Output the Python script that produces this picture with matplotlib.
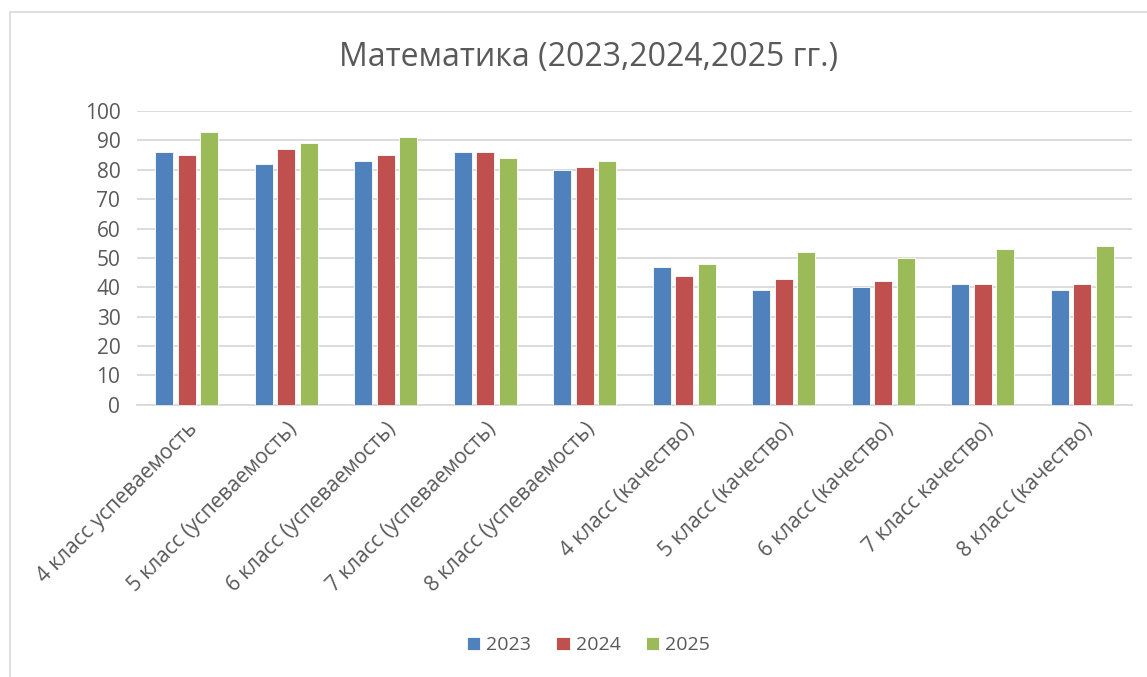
import matplotlib

matplotlib.use("Agg")
import matplotlib.pyplot as plt
import numpy as np
from matplotlib.patches import Rectangle

plt.rcParams["font.family"] = ["Open Sans", "DejaVu Sans"]

categories = [
    "4 класс успеваемость",
    "5 класс (успеваемость)",
    "6 класс (успеваемость)",
    "7 класс (успеваемость)",
    "8 класс (успеваемость)",
    "4 класс (качество)",
    "5 класс (качество)",
    "6 класс (качество)",
    "7 класс качество)",
    "8 класс (качество)",
]
years = ["2023", "2024", "2025"]
v2023 = [86, 82, 83, 86, 80, 47, 39, 40, 41, 39]
v2024 = [85, 87, 85, 86, 81, 44, 43, 42, 41, 41]
v2025 = [93, 89, 91, 84, 83, 48, 52, 50, 53, 54]
colors = ["#4f81bd", "#c0504d", "#9bbb59"]

fig = plt.figure(figsize=(11.47, 6.77), dpi=100)
ax = fig.add_axes([137 / 1147, 0.402, 995 / 1147, 0.434])

# chart border
fig.patches.append(Rectangle((10 / 1147, -0.01), 1.2, 1 - 12 / 677 + 0.01,
                             transform=fig.transFigure, fill=False,
                             edgecolor="#d9d9d9", lw=1.2))

x = np.arange(len(categories))
w = 0.18
step = 0.226
for i, (vals, c, lab) in enumerate(zip([v2023, v2024, v2025], colors, years)):
    ax.bar(x + (i - 1) * step, vals, w, color=c, label=lab,
           edgecolor="white", linewidth=0.6, zorder=3)

ax.set_xlim(-0.5, len(categories) - 0.5)
ax.set_ylim(0, 100)
ax.set_yticks(range(0, 101, 10))
ax.yaxis.grid(True, color="#d9d9d9", lw=1.3, zorder=0)
ax.set_axisbelow(True)
for s in ["top", "right", "left"]:
    ax.spines[s].set_visible(False)
ax.spines["bottom"].set_color("#d9d9d9")
ax.spines["bottom"].set_linewidth(1.3)
ax.tick_params(axis="both", length=0, colors="#595959")
ax.tick_params(axis="y", labelsize=15, pad=12)
ax.set_xticks(x)
ax.set_xticklabels(categories, rotation=45, ha="right", rotation_mode="anchor")
ax.tick_params(axis="x", labelsize=15, pad=10)

fig.text(0.513, 0.915, "Математика (2023,2024,2025 гг.)", ha="center", va="center",
         fontsize=23, color="#595959")

fig.legend(loc="center", bbox_to_anchor=(0.513, 0.047), ncol=3, frameon=False,
           fontsize=14, labelcolor="#595959", handlelength=0.7, handleheight=0.7,
           handletextpad=0.3, columnspacing=1.3)

fig.savefig("out.png", dpi=100)
